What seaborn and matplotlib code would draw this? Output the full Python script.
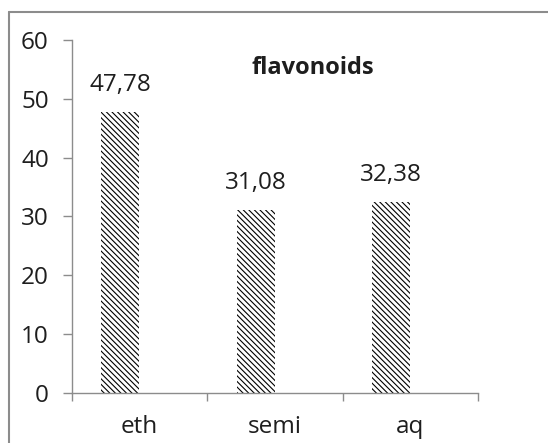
import matplotlib
matplotlib.use("Agg")
import matplotlib.pyplot as plt
from matplotlib.lines import Line2D
import pandas as pd
import seaborn as sns

# Flavonoid content per extract
extracts = ["eth", "semi", "aq"]
flavonoids = [47.78, 31.08, 32.38]
series_name = "flavonoids"
y_ticks = [0, 10, 20, 30, 40, 50, 60]

df = pd.DataFrame({"extract": extracts, "value": flavonoids, "series": series_name})

sns.set_theme(style="white")
plt.rcParams["font.family"] = ["Open Sans", "DejaVu Sans"]
plt.rcParams["hatch.linewidth"] = 0.8

axis_grey = "#8c8c8c"
text_col = "#1e1e1e"
fs = 17.5

fig = plt.figure(figsize=(5.48, 4.43), dpi=100)
ax = fig.add_axes([0.131, 0.113, 0.741, 0.797])

# Clustered layout with an empty second slot, so each bar sits left of centre
sns.barplot(data=df, x="extract", y="value", hue="series",
            hue_order=[series_name, " "], order=extracts,
            width=0.566, dodge=True, legend=False,
            palette={series_name: "white", " ": "white"},
            edgecolor="black", linewidth=0, hatch="\\" * 6,
            errorbar=None, ax=ax)

for cont in ax.containers:
    vals = [p.get_height() for p in cont]
    if all(v == v for v in vals):
        ax.bar_label(cont, labels=[f"{v:.2f}".replace(".", ",") for v in vals],
                     padding=11, fontsize=fs, color=text_col)

ax.set_ylim(0, 60)
ax.set_xlim(-0.5, 2.5)
ax.set_yticks(y_ticks)
ax.set_yticklabels([str(t) for t in y_ticks], fontsize=fs, color=text_col)

# Category boundaries carry the tick marks, centres carry the names
ax.set_xticks([-0.5, 0.5, 1.5, 2.5])
ax.set_xticklabels([])
ax.set_xticks([0, 1, 2], minor=True)
ax.set_xticklabels(extracts, minor=True, fontsize=fs, color=text_col)
ax.tick_params(axis="x", which="major", direction="out", length=5.5,
               width=1, color=axis_grey, bottom=True)
ax.tick_params(axis="x", which="minor", length=0, pad=16)
ax.tick_params(axis="y", direction="out", length=6.5, width=1,
               color=axis_grey, left=True, pad=10)

ax.set_xlabel("")
ax.set_ylabel("")
for side in ("top", "right"):
    ax.spines[side].set_visible(False)
for side in ("left", "bottom"):
    ax.spines[side].set_color(axis_grey)
    ax.spines[side].set_linewidth(1)

ax.text(0.594, 0.921, series_name, transform=ax.transAxes, ha="center",
        va="center", fontsize=17, fontweight="bold", color=text_col)

# Chart-area frame along the top and left edges
fig.add_artist(Line2D([8.5 / 548, 1.0], [1 - 12 / 443, 1 - 12 / 443],
                      transform=fig.transFigure, color=axis_grey, lw=1.5))
fig.add_artist(Line2D([8.5 / 548, 8.5 / 548], [0, 1 - 12 / 443],
                      transform=fig.transFigure, color=axis_grey, lw=1.5))

fig.savefig("out.png", dpi=100, facecolor="white")
